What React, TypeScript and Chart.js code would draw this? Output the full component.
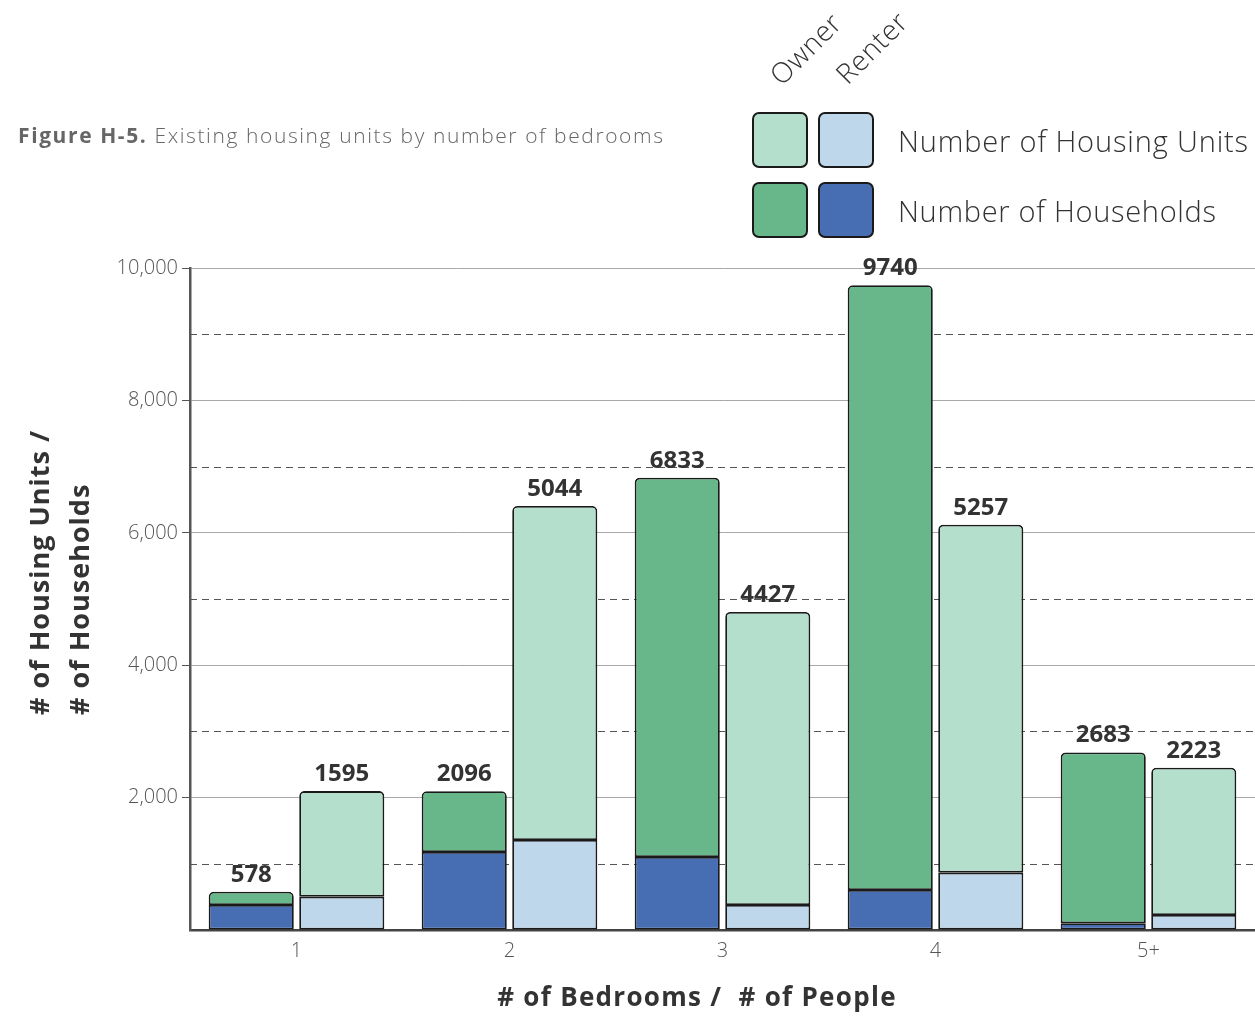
import React, { useEffect, useRef } from "react";
import { Chart, registerables } from "chart.js";

Chart.register(...registerables);

// ---- data ----
const categories = ["1", "2", "3", "4", "5+"];
const ownerHouseholds = [378, 1178, 1103, 604, 101];
const ownerHousingUnits = [578, 2096, 6833, 9740, 2683];
const renterHouseholds = [503, 1360, 378, 866, 227];
const renterHousingUnits = [1595, 5044, 4427, 5257, 2223];
const yMin = 0;
const yMax = 10000;
const yStep = 2000;
const dashedGridValues = [1000, 3000, 5000, 7000, 9000];

const captionBold = "Figure H-5.";
const captionText = "Existing housing units by number of bedrooms";
const legendCols = ["Owner", "Renter"];
const legendRows = ["Number of Housing Units", "Number of Households"];
const yTitleLines = ["# of Housing Units /", "# of Households"];
const xTitle = "# of Bedrooms /  # of People";

// ---- styles ----
const C_OWNER_UNITS = "#67b78a";
const C_OWNER_UNITS_LIGHT = "#b3dfcc";
const C_DARK_BLUE = "#476db3";
const C_LIGHT_BLUE = "#bfd7ea";
const BORDER = "#1a1a1a";
const FONT = "'Open Sans', Lato, sans-serif";

const dashedGrid = {
  id: "dashedGrid",
  beforeDatasetsDraw(chart: any) {
    const { ctx, chartArea, scales } = chart;
    ctx.save();
    ctx.setLineDash([7, 5]);
    ctx.strokeStyle = "#555";
    ctx.lineWidth = 1;
    dashedGridValues.forEach((v) => {
      const y = Math.round(scales.y.getPixelForValue(v)) + 0.5;
      ctx.beginPath();
      ctx.moveTo(chartArea.left, y);
      ctx.lineTo(chartArea.right, y);
      ctx.stroke();
    });
    ctx.restore();
  },
};

const valueLabels = {
  id: "valueLabels",
  afterDatasetsDraw(chart: any) {
    const { ctx } = chart;
    ctx.save();
    ctx.font = `bold 24px ${FONT}`;
    ctx.fillStyle = "#333";
    ctx.textAlign = "center";
    ctx.textBaseline = "alphabetic";
    const ownerMeta = chart.getDatasetMeta(1);
    const renterMeta = chart.getDatasetMeta(3);
    ownerMeta.data.forEach((bar: any, i: number) => {
      ctx.fillText(String(ownerHousingUnits[i]), bar.x, bar.y - 10);
    });
    renterMeta.data.forEach((bar: any, i: number) => {
      ctx.fillText(String(renterHousingUnits[i]), bar.x, bar.y - 10);
    });
    ctx.restore();
  },
};

function ChartCanvas() {
  const ref = useRef<HTMLCanvasElement | null>(null);
  useEffect(() => {
    if (!ref.current) return;
    const topRadius = { topLeft: 5, topRight: 5, bottomLeft: 0, bottomRight: 0 };
    const common = {
      borderColor: BORDER,
      borderWidth: 1.8,
      borderSkipped: false,
      categoryPercentage: 0.85,
      barPercentage: 0.94,
    };
    const chart = new Chart(ref.current, {
      type: "bar",
      data: {
        labels: categories,
        datasets: [
          {
            ...common,
            label: "Owner households",
            stack: "owner",
            data: ownerHouseholds,
            backgroundColor: C_DARK_BLUE,
            borderRadius: 0,
          },
          {
            ...common,
            label: "Owner housing units",
            stack: "owner",
            data: ownerHousingUnits.map((v, i) => v - ownerHouseholds[i]),
            backgroundColor: C_OWNER_UNITS,
            borderRadius: topRadius,
          },
          {
            ...common,
            label: "Renter households",
            stack: "renter",
            data: renterHouseholds,
            backgroundColor: C_LIGHT_BLUE,
            borderRadius: 0,
          },
          {
            ...common,
            label: "Renter housing units",
            stack: "renter",
            data: renterHousingUnits,
            backgroundColor: C_OWNER_UNITS_LIGHT,
            borderRadius: topRadius,
          },
        ] as any,
      },
      options: {
        animation: false,
        responsive: false,
        maintainAspectRatio: false,
        layout: { padding: { top: 268, left: 0, right: 0, bottom: 0 } },
        plugins: {
          legend: { display: false },
          tooltip: { enabled: false },
          title: { display: false },
        },
        scales: {
          x: {
            stacked: true,
            grid: { display: false, drawTicks: false },
            border: { display: true, color: "#444", width: 2.5 },
            ticks: {
              color: "#555",
              font: { family: FONT, size: 20, weight: 300 as any },
              padding: 9,
            },
            afterFit: (s: any) => {
              s.height = 89;
            },
          },
          y: {
            stacked: true,
            min: yMin,
            max: yMax,
            ticks: {
              stepSize: yStep,
              color: "#555",
              font: { family: FONT, size: 20, weight: 300 as any },
              padding: 4,
              callback: (v: any) =>
                Number(v) === 0 ? "" : Number(v).toLocaleString("en-US"),
            },
            grid: {
              color: (c: any) => (c.tick && c.tick.value === 0 ? "rgba(0,0,0,0)" : "#a8a8a8"),
              tickColor: (c: any) => (c.tick && c.tick.value === 0 ? "rgba(0,0,0,0)" : "#555"),
              lineWidth: 1,
              tickLength: 8,
            },
            border: { display: true, color: "#555", width: 2.5 },
            afterFit: (s: any) => {
              s.width = 190;
            },
          },
        },
      },
      plugins: [dashedGrid, valueLabels],
    });
    return () => chart.destroy();
  }, []);
  return (
    <canvas
      ref={ref}
      width={1255}
      height={1019}
      style={{ position: "absolute", left: 0, top: 0, display: "block" }}
    />
  );
}

function Swatch({ color, left, top }: { color: string; left: number; top: number }) {
  return (
    <div
      style={{
        position: "absolute",
        left,
        top,
        width: 52,
        height: 52,
        background: color,
        border: `2px solid ${BORDER}`,
        borderRadius: 7,
      }}
    />
  );
}

export default function App() {
  const textBase: React.CSSProperties = {
    position: "absolute",
    whiteSpace: "pre",
    fontFamily: FONT,
    lineHeight: 1,
  };
  return (
    <div
      style={{
        position: "absolute",
        left: 0,
        top: 0,
        width: 1255,
        height: 1019,
        background: "#fff",
        overflow: "hidden",
      }}
    >
      <ChartCanvas />
      {/* caption */}
      <div
        style={{ ...textBase, left: 18, top: 125, fontSize: 21, color: "#666", letterSpacing: "1.6px" }}
      >
        <span style={{ fontWeight: 700 }}>{captionBold}</span>
        <span style={{ fontWeight: 300 }}>{" " + captionText}</span>
      </div>
      {/* legend column headers */}
      <div
        style={{
          ...textBase,
          left: 805,
          top: 48,
          fontSize: 28,
          fontWeight: 300,
          color: "#333",
          letterSpacing: "0.6px",
          transform: "translate(-50%,-50%) rotate(-45deg)",
        }}
      >
        {legendCols[0]}
      </div>
      <div
        style={{
          ...textBase,
          left: 871,
          top: 47,
          fontSize: 28,
          fontWeight: 300,
          color: "#333",
          letterSpacing: "0.6px",
          transform: "translate(-50%,-50%) rotate(-45deg)",
        }}
      >
        {legendCols[1]}
      </div>
      <Swatch color={C_OWNER_UNITS_LIGHT} left={752} top={112} />
      <Swatch color={C_LIGHT_BLUE} left={818} top={112} />
      <Swatch color={C_OWNER_UNITS} left={752} top={182} />
      <Swatch color={C_DARK_BLUE} left={818} top={182} />
      <div
        style={{
          ...textBase,
          left: 898,
          top: 126,
          fontSize: 29,
          fontWeight: 300,
          color: "#333",
          letterSpacing: "0.85px",
        }}
      >
        {legendRows[0]}
      </div>
      <div
        style={{
          ...textBase,
          left: 898,
          top: 196,
          fontSize: 29,
          fontWeight: 300,
          color: "#333",
          letterSpacing: "0.7px",
        }}
      >
        {legendRows[1]}
      </div>
      {/* y title */}
      <div
        style={{
          ...textBase,
          left: 25,
          top: 715,
          fontSize: 27,
          fontWeight: 700,
          color: "#333",
          letterSpacing: "1px",
          transformOrigin: "0 0",
          transform: "rotate(-90deg)",
        }}
      >
        {yTitleLines[0]}
      </div>
      <div
        style={{
          ...textBase,
          left: 65,
          top: 715,
          fontSize: 27,
          fontWeight: 700,
          color: "#333",
          letterSpacing: "1px",
          transformOrigin: "0 0",
          transform: "rotate(-90deg)",
        }}
      >
        {yTitleLines[1]}
      </div>
      {/* x title */}
      <div
        style={{
          ...textBase,
          left: 697,
          top: 983,
          fontSize: 26,
          fontWeight: 700,
          color: "#333",
          letterSpacing: "1.3px",
          transform: "translateX(-50%)",
        }}
      >
        {xTitle}
      </div>
    </div>
  );
}
